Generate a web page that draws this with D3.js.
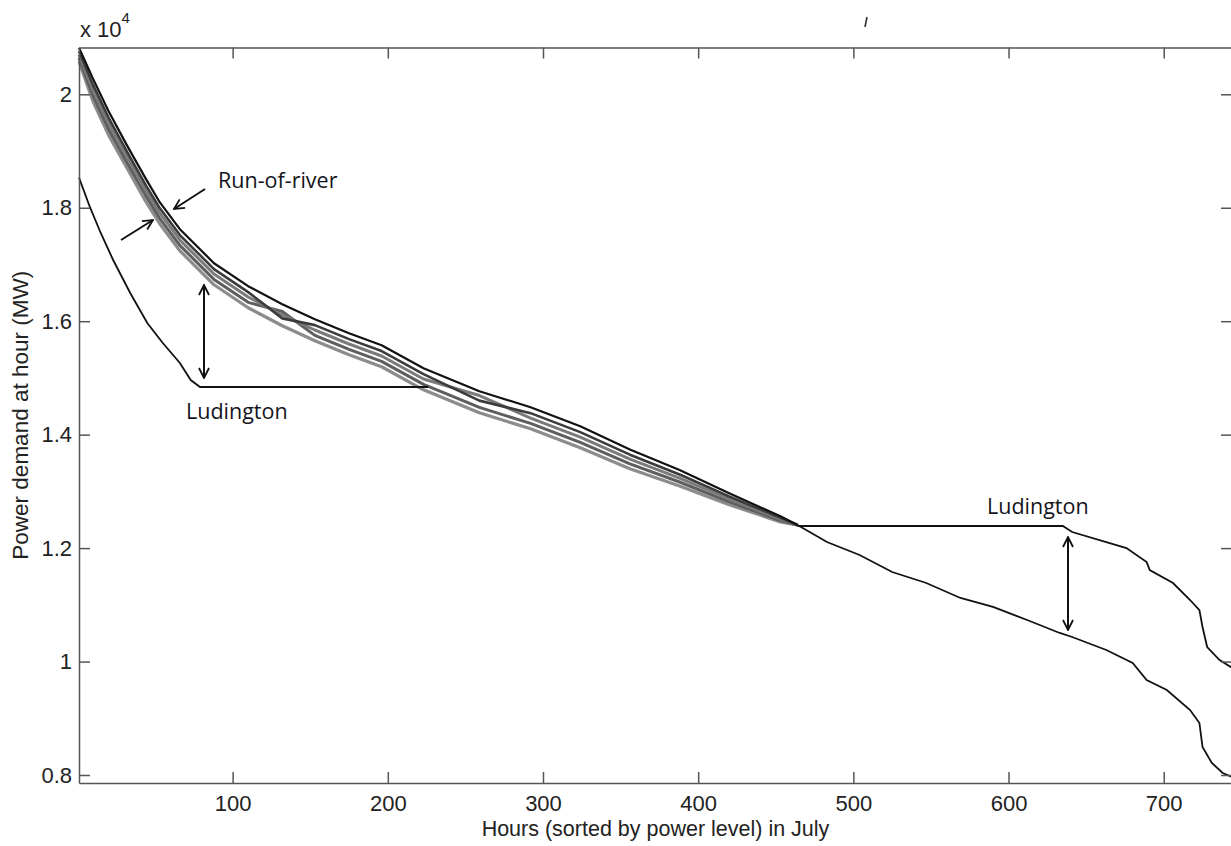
<!DOCTYPE html>
<meta charset="utf-8">
<head>
	<title>Power demand duration, July</title>
	<script src="https://cdnjs.cloudflare.com/ajax/libs/d3/7.8.5/d3.min.js" charset="utf-8"></script>
</head>

<style type="text/css">
	body {
		margin: 0;
		background: #fff;
		font-family: "Liberation Sans", Arial, sans-serif;
	}
	.axis path, .axis line {
		stroke: #555;
		stroke-width: 1.5;
	}
	.axis text {
		font-family: "Liberation Sans", Arial, sans-serif;
		font-size: 22px;
		fill: #222;
	}
	.note {
		font-family: "Open Sans", "Noto Sans", sans-serif;
		font-size: 21.5px;
		fill: #141420;
	}
</style>

<body>
<div id="chart"></div>

<script>
	// hours of the month (sorted by demand) where the run-of-river band was read
	var bandHours = [1, 10, 20, 32, 44, 53, 66, 88, 110, 132, 153, 175, 196, 223, 259, 292, 324, 356, 388, 420, 453, 464];

	// run-of-river scenarios, MW (top one is drawn black, the rest grey)
	var runA = [20820, 20276, 19704, 19095, 18513, 18098, 17622, 17022, 16617, 16300, 16035, 15788, 15577, 15171, 14765, 14483, 14148, 13740, 13375, 12965, 12562, 12407];
	var runB = [20760, 20170, 19590, 18985, 18399, 17994, 17518, 16918, 16513, 16050, 15931, 15684, 15473, 15067, 14600, 14379, 14044, 13647, 13298, 12910, 12535, 12407];
	var runC = [20700, 20076, 19494, 18895, 18313, 17908, 17432, 16832, 16427, 16110, 15845, 15598, 15387, 14981, 14690, 14293, 13958, 13570, 13235, 12865, 12512, 12407];
	var runD = [20640, 19976, 19389, 18795, 18218, 17813, 17337, 16737, 16332, 16170, 15750, 15503, 15292, 14886, 14480, 14198, 13863, 13485, 13165, 12815, 12487, 12407];
	var runE = [20580, 19876, 19284, 18695, 18113, 17718, 17242, 16642, 16237, 15920, 15655, 15408, 15197, 14791, 14385, 14103, 13768, 13400, 13095, 12765, 12462, 12407];

	// single demand curve after the band closes up
	var tailHours = [464, 483, 504, 525, 547, 569, 590, 612, 633, 641, 663, 680, 689, 702, 717, 723, 725, 731, 738, 744];
	var tailMW    = [12407, 12108, 11879, 11579, 11385, 11121, 10962, 10733, 10504, 10433, 10204, 9975, 9675, 9499, 9146, 8917, 8494, 8212, 8036, 7965];

	// Ludington pumped storage: generating at the peak (left) ...
	var ludGenHours = [1, 8, 15, 23, 34, 45, 55, 66, 73, 79, 226];
	var ludGenMW    = [18530, 18014, 17555, 17079, 16497, 15968, 15616, 15263, 14963, 14840, 14840];
	// ... and pumping in the valley (right)
	var ludPumpHours = [464, 635, 641, 663, 676, 689, 691, 706, 717, 723, 725, 728, 736, 744];
	var ludPumpMW    = [12390, 12390, 12283, 12107, 12001, 11754, 11613, 11384, 11085, 10908, 10609, 10256, 10027, 9890];

	var xTicks = [100, 200, 300, 400, 500, 600, 700];
	var yTicks = [8000, 10000, 12000, 14000, 16000, 18000, 20000];

	var margin = {top: 47.5, right: 0, bottom: 63, left: 79};
	var W = 1231, H = 846;
	var width = 1232 - margin.left,
		height = H - margin.top - margin.bottom;

	var xScale = d3.scaleLinear().domain([1, 744]).range([0, width]);
	var yScale = d3.scaleLinear().domain([7859, 20825]).range([height, 0]);

	var svg = d3.select("#chart").append("svg")
		.attr("width", W)
		.attr("height", H);

	var g = svg.append("g")
		.attr("transform", "translate(" + margin.left + "," + margin.top + ")");

	var line = d3.line()
		.x(function(d) { return xScale(d[0]); })
		.y(function(d) { return yScale(d[1]); });

	function pairs(hs, vs) {
		return hs.map(function(h, i) { return [h, vs[i]]; });
	}

	// band: lightest drawn first, black on top
	var band = [
		{v: runE, c: "#8c8c8c", w: 3.2},
		{v: runD, c: "#5e5e5e", w: 3},
		{v: runC, c: "#7a7a7a", w: 3},
		{v: runB, c: "#3c3c3c", w: 2.6},
		{v: runA, c: "#111", w: 2.2}
	];

	band.forEach(function(b) {
		g.append("path")
			.datum(pairs(bandHours, b.v))
			.attr("fill", "none")
			.attr("stroke", b.c)
			.attr("stroke-width", b.w)
			.attr("stroke-linejoin", "round")
			.attr("d", line);
	});

	[[tailHours, tailMW], [ludGenHours, ludGenMW], [ludPumpHours, ludPumpMW]].forEach(function(s) {
		g.append("path")
			.datum(pairs(s[0], s[1]))
			.attr("fill", "none")
			.attr("stroke", "#111")
			.attr("stroke-width", 1.8)
			.attr("d", line);
	});

	// axes, ticks pointing inwards like matlab
	g.append("g")
		.attr("class", "x axis")
		.attr("transform", "translate(0," + height + ")")
		.call(d3.axisBottom(xScale).tickValues(xTicks).tickSize(-11).tickSizeOuter(0).tickPadding(12));

	g.append("g")
		.attr("class", "x axis")
		.call(d3.axisTop(xScale).tickValues(xTicks).tickSize(-11).tickSizeOuter(0).tickFormat(""));

	g.append("g")
		.attr("class", "y axis")
		.call(d3.axisLeft(yScale).tickValues(yTicks).tickSize(-11).tickSizeOuter(0).tickPadding(7)
			.tickFormat(function(d) { return d3.format("~g")(d / 10000); }));

	g.append("g")
		.attr("class", "y axis")
		.attr("transform", "translate(" + width + ",0)")
		.call(d3.axisRight(yScale).tickValues(yTicks).tickSize(-11).tickSizeOuter(0).tickFormat(""));

	// exponent
	var expo = svg.append("text")
		.attr("x", 80)
		.attr("y", 37)
		.style("font-size", "22px")
		.style("fill", "#222");
	expo.append("tspan").text("x 10");
	expo.append("tspan").attr("dy", -14).style("font-size", "15px").text("4");

	svg.append("text")
		.attr("x", margin.left + width / 2)
		.attr("y", 836)
		.style("text-anchor", "middle")
		.style("font-size", "21.5px")
		.style("fill", "#222")
		.text("Hours (sorted by power level) in July");

	svg.append("text")
		.attr("transform", "translate(28," + (margin.top + height / 2) + ") rotate(-90)")
		.style("text-anchor", "middle")
		.style("font-size", "22.5px")
		.style("fill", "#222")
		.text("Power demand at hour (MW)");

	// annotations
	var defs = svg.append("defs");
	defs.append("marker")
		.attr("id", "head")
		.attr("viewBox", "0 0 12 12")
		.attr("refX", 11).attr("refY", 6)
		.attr("markerWidth", 12).attr("markerHeight", 12)
		.attr("markerUnits", "userSpaceOnUse")
		.attr("orient", "auto-start-reverse")
		.append("path")
		.attr("d", "M1,1 L11,6 L1,11")
		.attr("fill", "none")
		.attr("stroke", "#111")
		.attr("stroke-width", 1.8);

	function arrow(x1, y1, x2, y2, both) {
		var a = svg.append("line")
			.attr("x1", x1).attr("y1", y1).attr("x2", x2).attr("y2", y2)
			.attr("stroke", "#111")
			.attr("stroke-width", 2)
			.attr("marker-end", "url(#head)");
		if (both) a.attr("marker-start", "url(#head)");
	}

	arrow(205, 189, 174, 209);
	arrow(121, 240, 153, 220);
	arrow(204, 285, 204, 378, true);
	arrow(1068, 537, 1068, 630, true);

	svg.append("text").attr("class", "note").attr("x", 218).attr("y", 188).text("Run-of-river");
	svg.append("text").attr("class", "note").attr("x", 186).attr("y", 419).text("Ludington");
	svg.append("text").attr("class", "note").attr("x", 987).attr("y", 514).text("Ludington");

	// stray mark from the source image
	svg.append("line")
		.attr("x1", 867).attr("y1", 17).attr("x2", 865).attr("y2", 27)
		.attr("stroke", "#333").attr("stroke-width", 1.6);
</script>
</body>
